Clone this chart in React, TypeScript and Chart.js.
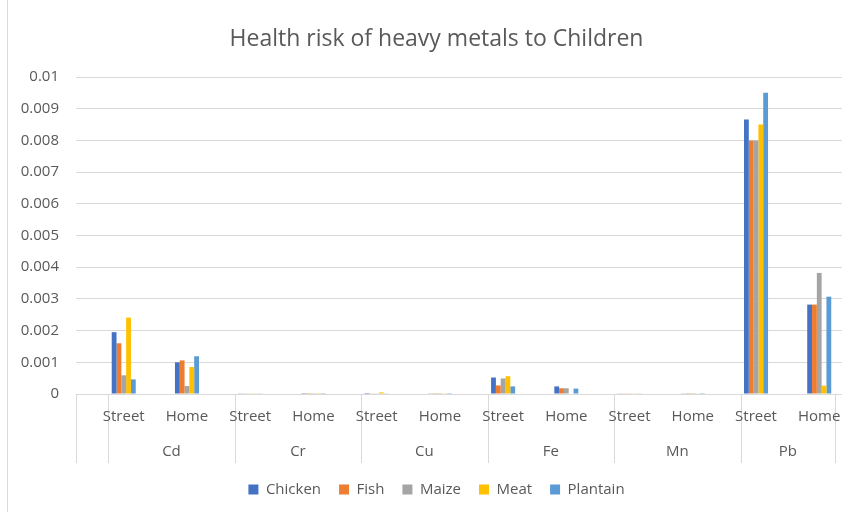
import React, { useEffect, useRef } from "react";
import { Chart, registerables } from "chart.js";

Chart.register(...registerables);

const titleText = "Health risk of heavy metals to Children";
const metals = ["Cd", "Cr", "Cu", "Fe", "Mn", "Pb"];
const categories = [
  "Street", "Home", "Street", "Home", "Street", "Home",
  "Street", "Home", "Street", "Home", "Street", "Home",
];
const seriesNames = ["Chicken", "Fish", "Maize", "Meat", "Plantain"];
const seriesColors = ["#4472C4", "#ED7D31", "#A5A5A5", "#FFC000", "#5B9BD5"];

const chicken = [0.00195, 0.001, 0.00001, 0.000005, 0.00003, 0.00001, 0.00052, 0.00024, 0.00002, 0.00001, 0.00866, 0.00282];
const fish = [0.0016, 0.00106, 0.00001, 0.000005, 0.00001, 0.000005, 0.00027, 0.00018, 0.00001, 0.000005, 0.008, 0.00282];
const maize = [0.00059, 0.00025, 0.00001, 0.000005, 0.00001, 0.000005, 0.00049, 0.00018, 0.00001, 0.000005, 0.008, 0.00382];
const meat = [0.00241, 0.00085, 0.00001, 0.000005, 0.00005, 0.00001, 0.00056, 0, 0.00002, 0.00001, 0.0085, 0.00026];
const plantain = [0.00046, 0.00119, 0.00001, 0.000005, 0.00001, 0.000005, 0.00024, 0.00017, 0.00001, 0.000005, 0.0095, 0.00307];

const yTickLabels = ["0", "0.001", "0.002", "0.003", "0.004", "0.005", "0.006", "0.007", "0.008", "0.009", "0.01"];

const FONT = "'Open Sans', sans-serif";
const TEXT = "#595959";
const GRID = "#d9d9d9";

const multiLevelAxis = {
  id: "multiLevelAxis",
  afterDraw(chart: any) {
    const { ctx, chartArea } = chart;
    const x = chart.scales.x;
    const bottom = chartArea.bottom;
    const px = (v: number) => x.getPixelForValue(v);
    const starts = metals.map((_, k) => 2 * k - 0.245);
    const ends = metals.map((_, k) => (k < metals.length - 1 ? 2 * (k + 1) - 0.245 : 11.25));
    ctx.save();
    ctx.strokeStyle = GRID;
    ctx.lineWidth = 1;
    const lines = [chartArea.left, ...starts.map(px), px(11.25)];
    lines.forEach((lx: number) => {
      const xx = Math.round(lx) + 0.5;
      ctx.beginPath();
      ctx.moveTo(xx, bottom);
      ctx.lineTo(xx, bottom + 69);
      ctx.stroke();
    });
    // outer chart border (left)
    ctx.beginPath();
    ctx.moveTo(7.5, 0);
    ctx.lineTo(7.5, chart.height);
    ctx.stroke();

    ctx.fillStyle = TEXT;
    ctx.font = `15px ${FONT}`;
    ctx.textAlign = "center";
    ctx.textBaseline = "middle";
    categories.forEach((c, i) => ctx.fillText(c, px(i), bottom + 23));
    metals.forEach((m, k) => ctx.fillText(m, (px(starts[k]) + px(ends[k])) / 2, bottom + 58));
    ctx.restore();
  },
};

export default function App() {
  const ref = useRef<HTMLCanvasElement | null>(null);
  useEffect(() => {
    if (!ref.current) return;
    const all = [chicken, fish, maize, meat, plantain];
    const chart = new Chart(ref.current, {
      type: "bar",
      data: {
        datasets: seriesNames.map((name, s) => ({
          label: name,
          data: categories.map((_, i) => ({ x: i, y: all[s][i] })),
          backgroundColor: seriesColors[s],
          borderWidth: 0,
          categoryPercentage: 0.38,
          barPercentage: 1,
        })),
      },
      options: {
        animation: false,
        responsive: false,
        maintainAspectRatio: false,
        layout: { padding: { left: 7, right: 0, top: 0, bottom: 5 } },
        plugins: {
          title: {
            display: true,
            text: titleText,
            color: TEXT,
            font: { family: FONT, size: 23, weight: "normal" },
            padding: { top: 26, bottom: 23.4 },
          },
          legend: {
            position: "bottom",
            labels: {
              boxWidth: 10,
              boxHeight: 10,
              color: TEXT,
              font: { family: FONT, size: 15 },
              padding: 18,
            },
          },
          tooltip: { enabled: false },
        },
        scales: {
          x: {
            type: "linear",
            offset: false,
            min: -0.755,
            max: 11.36,
            grid: { display: false, offset: false },
            border: { display: false },
            ticks: { display: false },
            afterFit: (s: any) => {
              s.height = 70;
            },
          },
          y: {
            min: 0,
            max: 0.01,
            ticks: {
              stepSize: 0.001,
              callback: (_v: any, i: number) => yTickLabels[i],
              color: TEXT,
              font: { family: FONT, size: 15 },
              padding: 17,
            },
            grid: { color: GRID, drawTicks: false },
            border: { display: false },
            afterFit: (s: any) => {
              s.width = 69;
            },
          },
          yRight: {
            position: "right",
            display: true,
            grid: { display: false },
            border: { display: false },
            ticks: { display: false },
            afterFit: (s: any) => {
              s.width = 24;
            },
          },
        },
      },
      plugins: [multiLevelAxis],
    } as any);
    return () => chart.destroy();
  }, []);
  return (
    <div style={{ position: "absolute", left: 0, top: 0, width: 850, height: 512, overflow: "hidden", background: "#fff" }}>
      <canvas ref={ref} width={866} height={512} style={{ display: "block" }} />
    </div>
  );
}
